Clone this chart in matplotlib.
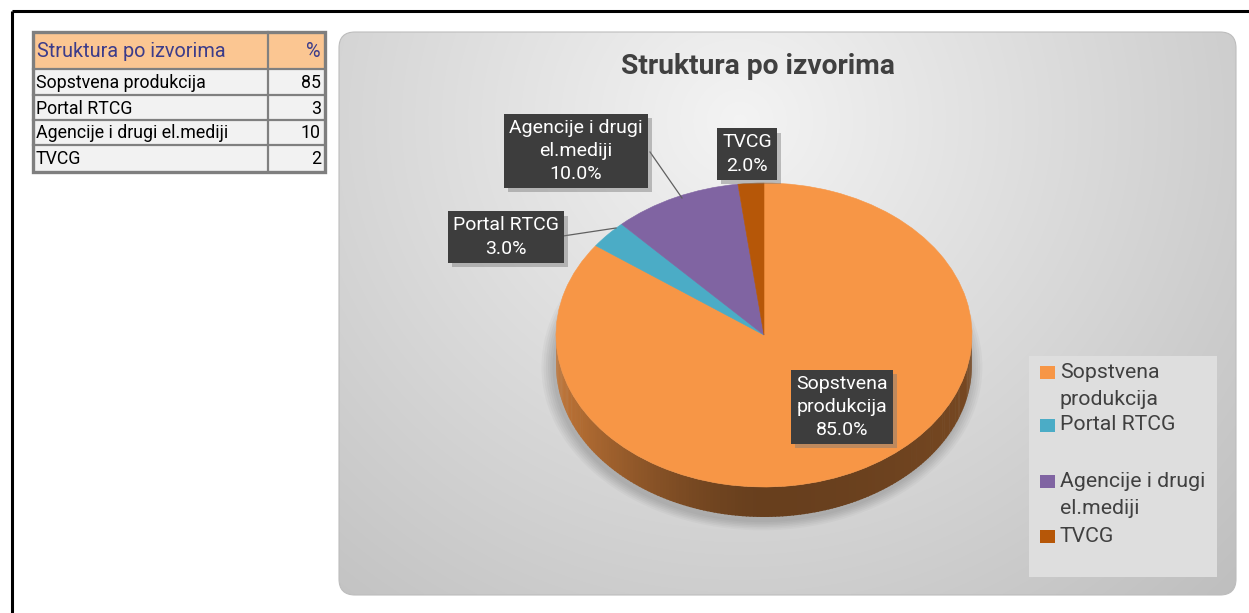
import numpy as np
import matplotlib
matplotlib.use("Agg")
import matplotlib.pyplot as plt
from matplotlib import patheffects as pe
from matplotlib.patches import Rectangle, FancyBboxPatch, Polygon, Ellipse
from matplotlib.colors import to_rgb

plt.rcParams['font.family'] = ['Roboto', 'DejaVu Sans']

# Podaci
title = "Struktura po izvorima"
categories = ["Sopstvena produkcija", "Portal RTCG", "Agencije i drugi el.mediji", "TVCG"]
values = [85, 3, 10, 2]
label_lines = ["Sopstvena\nprodukcija", "Portal RTCG", "Agencije i drugi\nel.mediji", "TVCG"]
colors = ["#f79646", "#4bacc6", "#8064a2", "#b65708"]

W, H = 1249, 613
fig = plt.figure(figsize=(W / 100, H / 100), dpi=100)
fig.patch.set_facecolor("white")

# Pozadina u pikselima
bg = fig.add_axes([0, 0, 1, 1])
bg.set_xlim(0, W)
bg.set_ylim(H, 0)
bg.axis("off")

# okvir lista
bg.plot([12.5, 12.5], [11, H], color="black", lw=2.2, solid_capstyle="butt")
bg.plot([12.5, W], [11, 11], color="black", lw=2.2, solid_capstyle="butt")

# Tabela
tx0, tx1, tcol = 33, 325, 268
row_y = [32, 69, 95, 120, 145, 172]
bg.add_patch(Rectangle((tx0, row_y[0]), tx1 - tx0, row_y[1] - row_y[0], fc="#fbc692", ec="none"))
bg.add_patch(Rectangle((tx0, row_y[1]), tx1 - tx0, row_y[-1] - row_y[1], fc="#f2f2f2", ec="none"))
for y in row_y[1:-1]:
    bg.plot([tx0, tx1], [y, y], color="#808080", lw=1.6)
bg.plot([tcol, tcol], [row_y[0], row_y[-1]], color="#808080", lw=1.6)
bg.add_patch(Rectangle((tx0, row_y[0]), tx1 - tx0, row_y[-1] - row_y[0], fc="none", ec="#7f7f7f", lw=2.4))
bg.text(37, (row_y[0] + row_y[1]) / 2 + 1, title, fontsize=14.3, color="#3c3c8a", va="center", ha="left")
bg.text(321, (row_y[0] + row_y[1]) / 2 + 1, "%", fontsize=14.3, color="#3c3c8a", va="center", ha="right")
for i, (cat, v) in enumerate(zip(categories, values)):
    yc = (row_y[i + 1] + row_y[i + 2]) / 2 + 1
    bg.text(36, yc, cat, fontsize=12.8, color="black", va="center", ha="left")
    bg.text(321, yc, str(v), fontsize=12.8, color="black", va="center", ha="right")

# Panel grafikona sa gradijentom
px0, py0, px1, py1 = 339, 32, 1236, 595
panel = FancyBboxPatch((px0, py0), px1 - px0, py1 - py0,
                       boxstyle="round,pad=0,rounding_size=16",
                       fc="none", ec="#bdbdbd", lw=0.8, zorder=2)
gx = np.linspace(px0, px1, 300)
gy = np.linspace(py0, py1, 200)
GX, GY = np.meshgrid(gx, gy)
d = np.sqrt(((GX - 740) / 1.0) ** 2 + ((GY - 120) / 0.95) ** 2)
val = np.clip(0.955 - 0.000295 * d, 0.74, 1)
img = bg.imshow(np.dstack([val, val, val]), extent=(px0, px1, py1, py0),
                origin="upper", interpolation="bilinear", zorder=1, aspect="auto")
bg.add_patch(panel)
img.set_clip_path(panel)
bg.set_xlim(0, W)
bg.set_ylim(H, 0)

# Pita (3D izgled)
cx_l, cx_r = 556, 972
top_px, ry_px = 183, 152
ylo = -1.3
pie_h = (1 - ylo) * ry_px
pax = fig.add_axes([cx_l / W, 1 - (top_px + pie_h) / H, (cx_r - cx_l) / W, pie_h / H])
wedges, _ = pax.pie(values, colors=colors, startangle=90, counterclock=False,
                    wedgeprops=dict(linewidth=0.4, antialiased=True))
for w, c in zip(wedges, colors):
    w.set_edgecolor(c)
    w.set_zorder(3)
pax.set_aspect("auto")
pax.set_xlim(-1, 1)
pax.set_ylim(ylo, 1)
pax.axis("off")

# senka
for k, a in enumerate(np.linspace(0.08, 0.13, 6)):
    s = 1 - k * 0.01
    pax.add_patch(Ellipse((-0.01, -0.21), 2.12 * s, 2.15 * s, fc="#888888", ec="none",
                          alpha=a, zorder=0, clip_on=False))

# bocna strana
h = 30 / ry_px
angles = np.linspace(180, 360, 181)
for t0, t1 in zip(angles[:-1], angles[1:]):
    tm = (t0 + t1) / 2
    col = colors[0]
    for w, c in zip(wedges, colors):
        if (tm - w.theta1) % 360 <= (w.theta2 - w.theta1):
            col = c
    ct = np.cos(np.radians(tm))
    f = 0.42 + 0.36 * max(0, -ct) ** 1.6 + 0.06 * max(0, ct) ** 2
    rgb = np.array(to_rgb(col)) * f
    a0, a1 = np.radians(t0), np.radians(t1 + 0.3)
    pts = [(np.cos(a0), np.sin(a0)), (np.cos(a1), np.sin(a1)),
           (np.cos(a1), np.sin(a1) - h), (np.cos(a0), np.sin(a0) - h)]
    pax.add_patch(Polygon(pts, closed=True, fc=rgb, ec="none", zorder=2))

# Sloj za tekst
ov = fig.add_axes([0, 0, 1, 1])
ov.set_xlim(0, W)
ov.set_ylim(H, 0)
ov.axis("off")
ov.patch.set_visible(False)

ov.text(758, 66, title, fontsize=20.3, fontweight="bold", color="#404040",
        ha="center", va="center")

# Oznake podataka
label_pos = [(842, 407), (506, 237), (576, 151), (747, 154)]
total = sum(values)
for (x, y), lab, v in zip(label_pos, label_lines, values):
    txt = f"{lab}\n{100 * v / total:.1f}%"
    t = ov.text(x, y, txt, fontsize=14, color="white", ha="center", va="center",
                linespacing=1.38,
                bbox=dict(boxstyle="square,pad=0.25", fc="#3d3d3d", ec="none"))
    t.get_bbox_patch().set_path_effects([
        pe.SimplePatchShadow(offset=(3, -3), shadow_rgbFace="#7a7a7a", alpha=0.45),
        pe.Normal()])
ov.plot([650, 682], [152, 198], color="#606060", lw=0.9)
ov.plot([563, 616], [236, 228], color="#606060", lw=0.9)

# Legenda
ov.add_patch(Rectangle((1029, 356), 188, 221, fc="#dedede", ec="none"))
leg_y = [386, 425, 495, 536]
for y, c, lab in zip(leg_y, colors, label_lines):
    n = lab.count("\n")
    y_first = y - n * 13.5
    ov.add_patch(Rectangle((1040, y_first - 6.5), 15, 13, fc=c, ec="none"))
    ov.text(1060, y, lab, fontsize=15.3, color="#404040", ha="left", va="center",
            linespacing=1.5)

fig.savefig("out.png", dpi=100)
